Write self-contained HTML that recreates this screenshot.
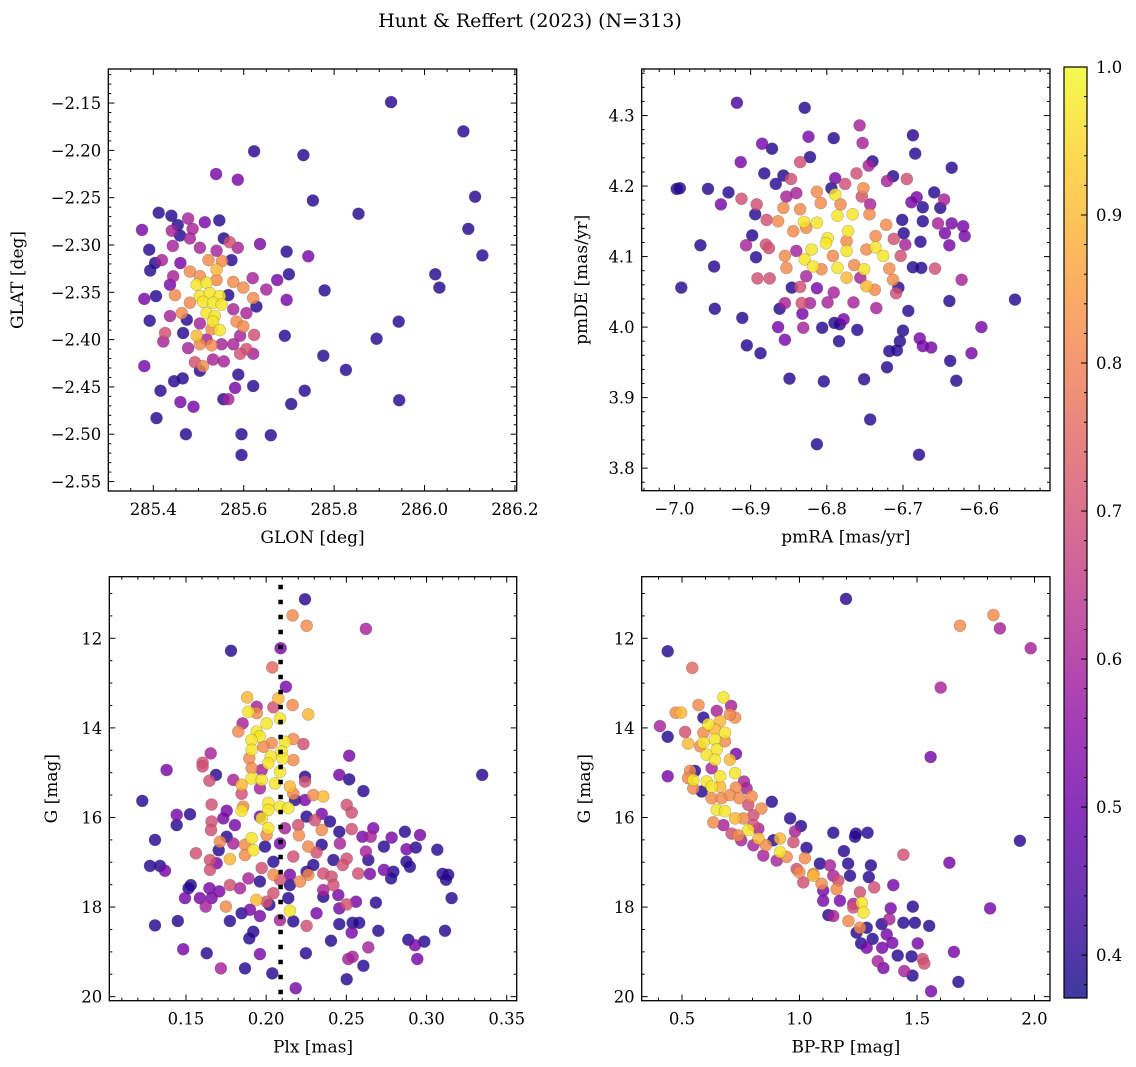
<!DOCTYPE html>
<html><head><meta charset="utf-8">
<style>
html,body{margin:0;padding:0;background:#fff;}
svg{display:block;font-family:"DejaVu Serif","Liberation Serif",serif;}
</style></head>
<body>
<svg id="fig" width="1136" height="1067" viewBox="0 0 1136 1067" xmlns="http://www.w3.org/2000/svg">
<text x="530" y="27" text-anchor="middle" font-size="19" fill="#000">Hunt &amp; Reffert (2023) (N=313)</text>
</svg>
<script>
// ---------- data ----------
const glon=[285.926,286.086,285.623,285.732,285.539,285.587,285.753,286.112,285.854,286.097,286.128,286.024,286.033,285.779,285.695,285.700,285.743,285.636,285.674,285.695,285.943,285.894,285.776,285.826,285.944,285.735,285.705,285.691,285.621,285.588,285.581,285.555,285.566,285.595,285.660,285.595,285.472,285.407,285.489,285.460,285.416,285.446,285.465,285.380,285.422,285.426,285.466,285.392,285.380,285.406,285.393,285.404,285.391,285.419,285.375,285.412,285.440,285.454,285.477,285.487,285.514,285.546,285.441,285.459,285.481,285.443,285.503,285.540,285.556,285.569,285.587,285.460,285.522,285.552,285.573,285.540,285.481,285.503,285.444,285.437,285.496,285.518,285.540,285.577,285.599,285.620,285.650,285.448,285.503,285.525,285.547,285.566,285.621,285.481,285.510,285.532,285.551,285.628,285.463,285.437,285.518,285.536,285.577,285.606,285.474,285.503,285.532,285.584,285.599,285.547,285.529,285.496,285.518,285.592,285.623,285.503,285.529,285.551,285.577,285.606,285.621,285.592,285.477,285.532,285.556,285.492,285.510,285.503];
const glat=[-2.149,-2.180,-2.201,-2.205,-2.225,-2.231,-2.253,-2.249,-2.267,-2.283,-2.311,-2.331,-2.345,-2.348,-2.307,-2.331,-2.312,-2.299,-2.337,-2.358,-2.381,-2.399,-2.417,-2.432,-2.464,-2.454,-2.468,-2.396,-2.449,-2.437,-2.451,-2.463,-2.463,-2.500,-2.501,-2.522,-2.500,-2.483,-2.471,-2.466,-2.454,-2.444,-2.441,-2.428,-2.402,-2.393,-2.393,-2.380,-2.357,-2.354,-2.327,-2.319,-2.305,-2.316,-2.284,-2.266,-2.269,-2.279,-2.272,-2.283,-2.276,-2.274,-2.285,-2.290,-2.293,-2.301,-2.303,-2.306,-2.293,-2.297,-2.303,-2.319,-2.316,-2.317,-2.316,-2.326,-2.328,-2.333,-2.333,-2.342,-2.342,-2.340,-2.337,-2.339,-2.345,-2.335,-2.347,-2.353,-2.354,-2.351,-2.354,-2.353,-2.356,-2.361,-2.360,-2.361,-2.363,-2.365,-2.372,-2.375,-2.372,-2.375,-2.368,-2.372,-2.379,-2.383,-2.381,-2.381,-2.386,-2.390,-2.389,-2.396,-2.400,-2.396,-2.395,-2.405,-2.406,-2.405,-2.405,-2.410,-2.415,-2.415,-2.409,-2.421,-2.423,-2.424,-2.428,-2.433];
const c1=[0.4,0.4,0.4,0.4,0.52,0.52,0.4,0.4,0.4,0.4,0.4,0.4,0.4,0.4,0.4,0.4,0.52,0.52,0.52,0.52,0.4,0.4,0.4,0.4,0.4,0.4,0.4,0.4,0.4,0.4,0.52,0.4,0.6,0.4,0.4,0.4,0.4,0.4,0.52,0.52,0.4,0.4,0.4,0.52,0.6,0.7,0.4,0.4,0.52,0.4,0.4,0.4,0.4,0.6,0.52,0.4,0.4,0.4,0.6,0.6,0.52,0.4,0.6,0.4,0.6,0.6,0.6,0.6,0.4,0.7,0.6,0.52,0.82,0.82,0.4,0.9,0.82,0.82,0.6,0.52,0.97,0.97,0.82,0.82,0.82,0.6,0.6,0.82,0.97,0.97,0.97,0.4,0.82,0.82,0.97,0.97,0.97,0.4,0.82,0.6,0.97,0.97,0.6,0.6,0.4,0.6,0.97,0.82,0.82,0.97,0.82,0.9,0.6,0.6,0.7,0.82,0.82,0.6,0.6,0.7,0.6,0.7,0.6,0.6,0.6,0.7,0.82,0.4];

const pmra=[-6.918,-6.829,-6.757,-6.687,-6.684,-6.824,-6.791,-6.753,-6.885,-6.872,-6.822,-6.913,-6.835,-6.740,-6.636,-6.882,-6.857,-6.847,-6.789,-6.761,-6.745,-6.721,-6.713,-6.695,-6.867,-6.997,-6.993,-6.956,-6.929,-6.912,-6.939,-6.892,-6.894,-6.879,-6.853,-6.840,-6.813,-6.794,-6.789,-6.776,-6.752,-6.754,-6.682,-6.659,-6.646,-6.689,-6.674,-6.651,-6.857,-6.835,-6.808,-6.782,-6.743,-6.864,-6.830,-6.813,-6.786,-6.766,-6.744,-6.722,-6.701,-6.674,-6.654,-6.636,-6.621,-6.619,-6.645,-6.639,-6.699,-6.677,-6.697,-6.712,-6.736,-6.736,-6.772,-6.799,-6.801,-6.844,-6.827,-6.774,-6.774,-6.820,-6.748,-6.898,-6.906,-6.880,-6.876,-6.966,-6.893,-6.855,-6.840,-6.829,-6.792,-6.726,-6.703,-6.948,-6.853,-6.818,-6.807,-6.786,-6.764,-6.751,-6.718,-6.687,-6.676,-6.658,-6.891,-6.875,-6.827,-6.774,-6.756,-6.713,-6.623,-6.991,-6.846,-6.835,-6.813,-6.791,-6.748,-6.737,-6.709,-6.706,-6.553,-6.639,-6.855,-6.833,-6.822,-6.799,-6.765,-6.735,-6.947,-6.862,-6.832,-6.693,-6.911,-6.864,-6.831,-6.806,-6.790,-6.778,-6.783,-6.760,-6.597,-6.700,-6.704,-6.678,-6.674,-6.663,-6.855,-6.905,-6.887,-6.784,-6.718,-6.708,-6.638,-6.610,-6.721,-6.849,-6.804,-6.751,-6.630,-6.743,-6.813,-6.679];
const pmde=[4.318,4.311,4.286,4.272,4.246,4.270,4.268,4.261,4.260,4.253,4.241,4.234,4.234,4.235,4.226,4.218,4.215,4.210,4.211,4.218,4.229,4.207,4.214,4.210,4.203,4.196,4.197,4.196,4.191,4.182,4.174,4.174,4.160,4.152,4.185,4.190,4.192,4.197,4.188,4.203,4.197,4.185,4.184,4.191,4.181,4.177,4.170,4.169,4.169,4.167,4.176,4.174,4.174,4.150,4.149,4.148,4.158,4.160,4.160,4.145,4.152,4.150,4.147,4.147,4.143,4.129,4.133,4.116,4.133,4.121,4.117,4.125,4.129,4.113,4.136,4.126,4.119,4.136,4.141,4.122,4.108,4.110,4.110,4.130,4.116,4.117,4.112,4.116,4.099,4.101,4.108,4.096,4.101,4.101,4.101,4.086,4.084,4.086,4.082,4.084,4.088,4.082,4.083,4.085,4.084,4.083,4.069,4.069,4.072,4.070,4.070,4.067,4.067,4.056,4.056,4.057,4.055,4.049,4.058,4.053,4.048,4.056,4.039,4.037,4.034,4.034,4.034,4.035,4.035,4.027,4.026,4.026,4.019,4.023,4.013,4.000,3.999,3.999,4.006,4.011,4.004,3.996,4.000,3.995,3.980,3.984,3.973,3.971,3.982,3.974,3.963,3.980,3.966,3.967,3.952,3.963,3.943,3.927,3.923,3.926,3.924,3.869,3.834,3.819];
const c2=[0.45,0.4,0.6,0.4,0.4,0.52,0.4,0.6,0.52,0.4,0.4,0.52,0.7,0.4,0.4,0.4,0.4,0.7,0.52,0.7,0.6,0.6,0.4,0.7,0.4,0.4,0.4,0.4,0.4,0.7,0.52,0.7,0.4,0.7,0.6,0.6,0.82,0.4,0.97,0.7,0.82,0.7,0.52,0.4,0.6,0.52,0.4,0.4,0.82,0.82,0.82,0.82,0.6,0.82,0.97,0.97,0.97,0.97,0.82,0.82,0.4,0.4,0.6,0.52,0.52,0.52,0.52,0.52,0.4,0.4,0.6,0.7,0.82,0.97,0.97,0.97,0.97,0.82,0.82,0.82,0.97,0.97,0.82,0.4,0.6,0.7,0.7,0.4,0.4,0.82,0.6,0.97,0.82,0.97,0.7,0.4,0.82,0.97,0.82,0.97,0.82,0.97,0.82,0.4,0.4,0.7,0.7,0.7,0.6,0.9,0.6,0.82,0.6,0.4,0.4,0.7,0.52,0.6,0.9,0.82,0.7,0.4,0.4,0.4,0.6,0.7,0.6,0.6,0.6,0.6,0.4,0.4,0.52,0.4,0.4,0.52,0.6,0.4,0.4,0.52,0.4,0.4,0.52,0.4,0.4,0.52,0.52,0.52,0.52,0.4,0.4,0.4,0.4,0.4,0.4,0.52,0.4,0.4,0.4,0.4,0.4,0.4,0.4,0.4];

const plx=[0.2242,0.2165,0.2252,0.2622,0.1781,0.2090,0.2038,0.2123,0.1882,0.2076,0.1941,0.2045,0.2165,0.2263,0.1889,0.1941,0.2086,0.1853,0.1826,0.1941,0.2003,0.1961,0.1909,0.2034,0.2117,0.2169,0.2232,0.1909,0.1982,0.2096,0.2028,0.2169,0.2103,0.1895,0.2518,0.1654,0.1604,0.1604,0.1379,0.2013,0.1909,0.1972,0.2086,0.1687,0.2242,0.2456,0.2518,0.3347,0.1795,0.1847,0.1909,0.1972,0.2055,0.1646,0.2242,0.2148,0.1961,0.2606,0.1847,0.2169,0.2294,0.2356,0.2242,0.1228,0.2180,0.2013,0.1660,0.1857,0.2086,0.2138,0.2502,0.1847,0.2013,0.2533,0.1754,0.1525,0.1442,0.2252,0.2346,0.1961,0.1972,0.1733,0.1660,0.1442,0.1805,0.2200,0.2304,0.2398,0.2013,0.1656,0.2117,0.2346,0.2533,0.2668,0.2456,0.2865,0.2959,0.2600,0.2652,0.2782,0.1754,0.2204,0.1909,0.1307,0.2003,0.1712,0.1795,0.1868,0.1993,0.2086,0.2263,0.2346,0.2460,0.2622,0.2734,0.2875,0.2933,0.3067,0.1920,0.1704,0.1868,0.1774,0.1562,0.2169,0.2314,0.2419,0.2502,0.2637,0.2875,0.1276,0.1338,0.1369,0.1650,0.1650,0.1691,0.2045,0.2294,0.2477,0.2896,0.1972,0.2252,0.2734,0.2793,0.2574,0.2647,0.3100,0.3135,0.3121,0.2045,0.2148,0.2263,0.2356,0.2408,0.1889,0.1961,0.2086,0.2211,0.2779,0.1530,0.1774,0.1837,0.2148,0.2419,0.1516,0.1646,0.1708,0.2045,0.2356,0.2450,0.1494,0.1587,0.1660,0.2003,0.1939,0.2138,0.2356,0.2560,0.2684,0.3156,0.1749,0.1623,0.2020,0.2502,0.2456,0.1899,0.2148,0.1847,0.1961,0.2314,0.1774,0.1449,0.1307,0.2086,0.2169,0.2252,0.2456,0.2539,0.2580,0.2699,0.3115,0.1920,0.1895,0.2533,0.2404,0.2886,0.2928,0.2986,0.1483,0.2637,0.1629,0.1961,0.2248,0.2512,0.2539,0.2942,0.2606,0.1718,0.1868,0.2038,0.2502,0.2184];
const gmag3=[11.13,11.49,11.72,11.79,12.28,12.22,12.65,13.08,13.32,13.34,13.53,13.54,13.49,13.70,13.64,13.67,13.79,13.90,14.08,14.08,13.90,14.19,14.27,14.34,14.31,14.25,14.36,14.49,14.42,14.53,14.64,14.72,14.68,14.68,14.62,14.57,14.78,14.86,14.94,14.79,14.90,14.94,14.98,15.05,15.09,15.05,15.15,15.05,15.16,15.27,15.13,15.16,15.24,15.18,15.20,15.31,15.35,15.41,15.47,15.47,15.50,15.53,15.61,15.63,15.61,15.68,15.71,15.76,15.76,15.79,15.72,15.85,15.83,15.89,15.85,15.93,15.94,15.98,15.92,15.98,16.02,16.02,16.09,16.17,16.17,16.17,16.06,16.09,16.24,16.28,16.24,16.28,16.26,16.24,16.32,16.32,16.39,16.43,16.43,16.45,16.43,16.40,16.46,16.50,16.39,16.54,16.58,16.61,16.65,16.58,16.65,16.61,16.58,16.76,16.65,16.71,16.67,16.72,16.73,16.73,16.84,16.93,16.80,16.87,16.78,16.95,16.92,16.95,16.99,17.08,17.08,17.19,16.95,17.17,17.02,16.99,17.06,17.06,17.10,17.13,17.21,17.17,17.21,17.25,17.26,17.26,17.28,17.39,17.28,17.28,17.28,17.25,17.32,17.36,17.43,17.39,17.43,17.36,17.51,17.51,17.58,17.51,17.51,17.58,17.58,17.65,17.69,17.62,17.73,17.80,17.80,17.80,17.88,17.84,17.80,17.77,17.88,17.90,17.80,17.99,17.99,17.95,17.94,18.03,18.06,18.08,18.14,18.20,18.14,18.31,18.31,18.41,18.29,18.32,18.42,18.38,18.35,18.35,18.53,18.53,18.55,18.70,18.57,18.75,18.73,18.85,18.77,18.94,18.90,19.03,19.05,19.03,19.16,19.11,19.16,19.31,19.37,19.37,19.48,19.61,19.81];
const c3=[0.4,0.82,0.82,0.6,0.4,0.52,0.75,0.52,0.9,0.9,0.6,0.7,0.82,0.9,0.97,0.82,0.97,0.6,0.82,0.97,0.97,0.97,0.97,0.82,0.97,0.82,0.7,0.97,0.82,0.97,0.97,0.82,0.97,0.82,0.52,0.6,0.7,0.7,0.52,0.97,0.82,0.6,0.97,0.4,0.4,0.52,0.4,0.4,0.6,0.9,0.97,0.97,0.97,0.7,0.7,0.9,0.6,0.4,0.7,0.82,0.82,0.9,0.52,0.4,0.4,0.97,0.7,0.82,0.97,0.97,0.7,0.97,0.97,0.7,0.52,0.4,0.52,0.4,0.52,0.52,0.97,0.52,0.7,0.4,0.52,0.7,0.7,0.4,0.97,0.7,0.6,0.82,0.7,0.52,0.4,0.4,0.52,0.52,0.6,0.52,0.4,0.82,0.97,0.4,0.82,0.82,0.6,0.82,0.4,0.52,0.82,0.4,0.6,0.6,0.4,0.52,0.4,0.4,0.97,0.4,0.82,0.9,0.7,0.7,0.7,0.4,0.7,0.4,0.4,0.4,0.4,0.52,0.7,0.7,0.52,0.4,0.4,0.7,0.4,0.7,0.4,0.52,0.4,0.7,0.52,0.4,0.4,0.4,0.82,0.52,0.82,0.7,0.7,0.6,0.4,0.7,0.82,0.4,0.4,0.7,0.6,0.4,0.7,0.4,0.52,0.52,0.7,0.6,0.52,0.52,0.52,0.52,0.7,0.9,0.4,0.4,0.52,0.4,0.4,0.82,0.6,0.4,0.7,0.52,0.52,0.97,0.4,0.52,0.52,0.4,0.4,0.4,0.6,0.4,0.7,0.4,0.4,0.4,0.4,0.4,0.4,0.4,0.52,0.4,0.4,0.52,0.4,0.52,0.6,0.4,0.52,0.4,0.6,0.6,0.52,0.4,0.6,0.4,0.4,0.4,0.52];

const bprp=[1.198,1.825,1.683,1.853,1.984,0.439,0.544,1.601,0.676,0.709,0.570,0.473,0.496,0.591,0.648,0.662,0.726,0.704,0.612,0.406,0.439,0.513,0.591,0.640,0.683,0.526,0.591,0.640,0.683,0.577,0.605,0.648,0.640,0.704,0.730,0.626,1.558,0.439,0.534,0.555,0.526,0.548,0.605,0.662,0.726,0.548,0.584,0.626,0.662,0.730,0.764,0.775,0.626,0.669,0.704,0.744,0.796,0.838,0.882,0.782,0.648,0.683,0.726,0.633,0.676,0.761,0.804,0.804,0.825,0.711,0.752,0.782,0.740,0.825,0.857,0.889,0.804,0.846,0.917,0.917,0.945,0.903,0.960,1.006,0.981,1.030,1.023,0.974,1.144,1.236,1.240,1.290,1.189,1.207,1.304,1.087,1.130,0.988,0.999,1.059,1.059,1.094,1.144,1.165,1.158,1.101,1.016,1.215,1.295,1.318,1.399,1.101,1.172,1.229,1.257,1.265,1.272,1.229,1.482,1.388,1.811,1.123,1.144,1.208,1.257,1.243,1.286,1.350,1.382,1.371,1.442,1.491,1.552,1.262,1.311,1.286,1.352,1.395,1.503,1.418,1.477,1.524,1.531,1.657,1.333,1.357,1.446,1.481,1.676,1.560,1.938,1.442,1.638];
const gmag4=[11.12,11.48,11.72,11.78,12.22,12.29,12.66,13.10,13.32,13.51,13.49,13.66,13.66,13.77,13.62,13.85,13.77,13.70,13.92,13.96,14.20,14.09,14.11,14.03,14.11,14.35,14.33,14.26,14.30,14.41,14.60,14.48,14.71,14.71,14.58,14.90,14.65,15.08,14.96,14.96,15.12,15.16,15.20,15.08,15.01,15.35,15.42,15.31,15.31,15.33,15.20,15.35,15.57,15.57,15.50,15.57,15.53,15.80,15.65,15.72,15.83,15.86,16.02,16.11,16.17,16.02,15.95,16.17,16.25,16.36,16.51,16.28,16.40,16.47,16.62,16.51,16.62,16.85,16.47,16.77,16.88,16.96,16.02,16.19,16.31,16.68,16.91,16.55,16.34,16.43,16.36,16.34,16.75,17.03,17.07,17.03,17.07,17.15,17.22,17.26,17.30,17.48,17.30,17.41,17.60,17.63,17.45,17.30,17.33,17.56,17.51,17.86,17.86,17.93,17.67,17.90,18.12,18.01,17.99,18.03,18.03,18.18,18.20,18.31,18.46,18.57,18.46,18.38,18.27,18.61,18.35,18.35,18.42,18.81,18.71,18.91,18.91,18.80,18.81,19.08,19.10,19.16,19.26,19.00,19.21,19.36,19.43,19.53,19.67,19.88,16.52,16.83,17.01];
const c4=[0.4,0.82,0.82,0.6,0.6,0.4,0.75,0.6,0.97,0.6,0.82,0.82,0.9,0.4,0.6,0.9,0.82,0.82,0.97,0.6,0.4,0.7,0.82,0.9,0.97,0.9,0.97,0.97,0.82,0.82,0.97,0.97,0.97,0.9,0.52,0.6,0.52,0.52,0.82,0.4,0.82,0.97,0.97,0.97,0.97,0.82,0.4,0.97,0.9,0.82,0.6,0.6,0.82,0.82,0.82,0.82,0.82,0.82,0.4,0.7,0.97,0.97,0.9,0.82,0.6,0.82,0.7,0.7,0.6,0.7,0.6,0.97,0.82,0.9,0.82,0.4,0.6,0.6,0.9,0.97,0.82,0.6,0.4,0.4,0.6,0.4,0.82,0.7,0.4,0.4,0.4,0.4,0.4,0.4,0.4,0.4,0.6,0.7,0.82,0.82,0.9,0.82,0.6,0.7,0.82,0.52,0.7,0.4,0.4,0.7,0.52,0.52,0.52,0.6,0.7,0.97,0.97,0.7,0.4,0.52,0.52,0.4,0.6,0.82,0.82,0.4,0.4,0.4,0.6,0.52,0.4,0.4,0.4,0.4,0.4,0.52,0.52,0.52,0.52,0.4,0.4,0.7,0.7,0.52,0.6,0.52,0.6,0.4,0.4,0.52,0.4,0.7,0.52];

const cbTicks=[0.4,0.5,0.6,0.7,0.8,0.9,1.0];
const cMin=0.371, cMax=1.0;

// ---------- helpers ----------
const NS="http://www.w3.org/2000/svg";
const svg=document.getElementById('fig');
function mk(tag,attrs,parent){const e=document.createElementNS(NS,tag);for(const k in attrs)e.setAttribute(k,attrs[k]);(parent||svg).appendChild(e);return e;}
const plasma=[[13,8,135],[65,4,157],[106,0,168],[143,13,164],[177,42,144],[204,71,120],[225,100,98],[242,132,75],[252,166,54],[252,206,37],[240,249,33]];
function cmap(v){let t=(v-cMin)/(cMax-cMin);t=Math.max(0,Math.min(1,t))*10;const i=Math.min(9,Math.floor(t)),f=t-i;const a=plasma[i],b=plasma[i+1];return 'rgb('+[0,1,2].map(k=>Math.round(a[k]+(b[k]-a[k])*f)).join(',')+')';}
function fmt(v,d){const s=Math.abs(v).toFixed(d);return (v<-1e-9?'\u2212':'')+s;}

function panel(o){
  const {L,T,R,B,x0,x1,y0,y1,inv,name}=o;
  const sx=v=>L+(v-x0)/(x1-x0)*(R-L);
  const sy=inv?(v=>T+(v-y0)/(y1-y0)*(B-T)):(v=>B-(v-y0)/(y1-y0)*(B-T));
  const g=mk('g',{});
  
  
  const cid='clip-'+name;
  const cp=mk('clipPath',{id:cid},g);mk('rect',{x:L,y:T,width:R-L,height:B-T},cp);
  const pts=mk('g',{'clip-path':'url(#'+cid+')'},g);
  
  
  const idx=o.xs.map((_,i)=>i).sort((a,b)=>o.cs[a]-o.cs[b]);
  idx.forEach(i=>{
    const c=mk('circle',{cx:sx(o.xs[i]).toFixed(1),cy:sy(o.ys[i]).toFixed(1),r:6,fill:cmap(o.cs[i]),'fill-opacity':0.82,stroke:'rgba(70,70,70,0.35)','stroke-width':0.6},pts);
    
    
  });
  if(o.extra)o.extra(g,sx,sy);
  mk('rect',{x:L,y:T,width:R-L,height:B-T,fill:'none',stroke:'#000','stroke-width':1.3},g);
  const xt=mk('g',{},g);
  
  
  const eps=1e-9;
  for(let v=Math.ceil(x0/o.xmin-eps)*o.xmin;v<=x1+eps;v+=o.xmin){
    const X=sx(v);const maj=Math.abs(v/o.xmaj-Math.round(v/o.xmaj))<1e-4;const len=maj?6:3;
    mk('line',{x1:X,y1:B,x2:X,y2:B-len,stroke:'#000','stroke-width':1},xt);
    mk('line',{x1:X,y1:T,x2:X,y2:T+len,stroke:'#000','stroke-width':1},xt);
    if(maj){const t=mk('text',{x:X,y:B+24,'text-anchor':'middle','font-size':16.5},xt);t.textContent=fmt(v,o.xd);
      
      }
  }
  const yt=mk('g',{},g);
  
  
  for(let v=Math.ceil(Math.min(y0,y1)/o.ymin-eps)*o.ymin;v<=Math.max(y0,y1)+eps;v+=o.ymin){
    const Y=sy(v);const maj=Math.abs(v/o.ymaj-Math.round(v/o.ymaj))<1e-4;const len=maj?6:3;
    mk('line',{x1:L,y1:Y,x2:L+len,y2:Y,stroke:'#000','stroke-width':1},yt);
    mk('line',{x1:R,y1:Y,x2:R-len,y2:Y,stroke:'#000','stroke-width':1},yt);
    if(maj){const t=mk('text',{x:L-7,y:Y+6,'text-anchor':'end','font-size':16.5},yt);t.textContent=fmt(v,o.yd);
      
      }
  }
  const xl=mk('text',{x:(L+R)/2,y:B+52,'text-anchor':'middle','font-size':17},g);xl.textContent=o.xlab;
  
  
  const yl=mk('text',{x:o.ylx,y:(T+B)/2,'text-anchor':'middle','font-size':17,transform:'rotate(-90 '+o.ylx+' '+(T+B)/2+')'},g);yl.textContent=o.ylab;
  
  
}

panel({name:'glon-glat-panel',L:108.3,T:69,R:516.7,B:491,x0:285.3004,x1:286.204,y0:-2.560,y1:-2.114,inv:false,
  xs:glon,ys:glat,cs:c1,xmaj:0.2,xmin:0.05,ymaj:0.05,ymin:0.01,xd:1,yd:2,xlab:'GLON [deg]',ylab:'GLAT [deg]',ylx:23});
panel({name:'pm-panel',L:641.7,T:69,R:1050,B:490.7,x0:-7.043,x1:-6.507,y0:3.768,y1:4.366,inv:false,
  xs:pmra,ys:pmde,cs:c2,xmaj:0.1,xmin:0.02,ymaj:0.1,ymin:0.02,xd:1,yd:1,xlab:'pmRA [mas/yr]',ylab:'pmDE [mas/yr]',ylx:587});
panel({name:'plx-g-panel',L:109.3,T:576.7,R:516.7,B:1000.7,x0:0.1022,x1:0.3562,y0:10.625,y1:20.09,inv:true,
  xs:plx,ys:gmag3,cs:c3,xmaj:0.05,xmin:0.01,ymaj:2,ymin:0.5,xd:2,yd:0,xlab:'Plx [mas]',ylab:'G [mag]',ylx:57,
  extra:(g,sx,sy)=>{const l=mk('line',{x1:sx(0.209),y1:576.7,x2:sx(0.209),y2:1000.7,stroke:'#000','stroke-width':4.5,'stroke-dasharray':'4.5 10.5','stroke-dashoffset':-8},g);
    
    }});
panel({name:'cmd-panel',L:641.7,T:576.7,R:1050,B:1000.7,x0:0.3285,x1:2.066,y0:10.625,y1:20.09,inv:true,
  xs:bprp,ys:gmag4,cs:c4,xmaj:0.5,xmin:0.1,ymaj:2,ymin:0.5,xd:1,yd:0,xlab:'BP-RP [mag]',ylab:'G [mag]',ylx:590});

// colorbar
(function(){
  const L=1064,R=1087,T=67,B=998;
  const cb=mk('g',{});
  
  
  const defs=mk('defs',{},cb);
  const lg=mk('linearGradient',{id:'cbgrad',x1:0,y1:1,x2:0,y2:0},defs);
  for(let i=0;i<=10;i++){const v=cMin+(cMax-cMin)*i/10;mk('stop',{offset:(i*10)+'%','stop-color':cmap(v),'stop-opacity':0.8},lg);}
  mk('rect',{x:L,y:T,width:R-L,height:B-T,fill:'url(#cbgrad)'},cb);
  mk('rect',{x:L,y:T,width:R-L,height:B-T,fill:'none',stroke:'#000','stroke-width':1.2},cb);
  const ys=v=>B-(v-cMin)/(cMax-cMin)*(B-T);
  for(let v=0.38;v<=1.0001;v+=0.02){const Y=ys(v);mk('line',{x1:R,y1:Y,x2:R-3,y2:Y,stroke:'#000','stroke-width':1},cb);}
  cbTicks.forEach(v=>{const Y=ys(v);mk('line',{x1:R,y1:Y,x2:R-6,y2:Y,stroke:'#000','stroke-width':1},cb);
    const t=mk('text',{x:R+9,y:Y+6,'font-size':16.5},cb);t.textContent=v.toFixed(1);
    
    });
})();
</script>
</body></html>
